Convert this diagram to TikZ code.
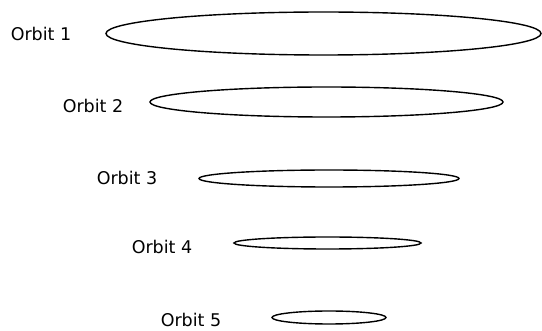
\documentclass[tikz,border=0pt]{standalone}
\usepackage{fontspec}
\setmainfont{DejaVu Sans}
\begin{document}
\begin{tikzpicture}[x=1pt,y=-1pt,
  orbit/.style={draw=black,line width=1.4pt},
  lbl/.style={font=\fontsize{17.5}{20}\selectfont,inner sep=0pt}]
\useasboundingbox (0,0) rectangle (542,331);
% orbits, widest at the top
\draw[orbit] (323.5,33.5) ellipse [x radius=217.5, y radius=21.5];
\draw[orbit] (326.5,102) ellipse [x radius=176.5, y radius=15];
\draw[orbit] (329,178.5) ellipse [x radius=130, y radius=8.5];
\draw[orbit] (327.5,243) ellipse [x radius=93.5, y radius=6];
\draw[orbit] (329,317.5) ellipse [x radius=57, y radius=6.5];
% labels
\node[lbl] (l1) at (41,34) {Orbit 1};
\node[lbl] (l2) at (93,106) {Orbit 2};
\node[lbl] (l3) at (127,178) {Orbit 3};
\node[lbl] (l4) at (162,247) {Orbit 4};
\node[lbl] (l5) at (191,320) {Orbit 5};
\end{tikzpicture}
\end{document}
